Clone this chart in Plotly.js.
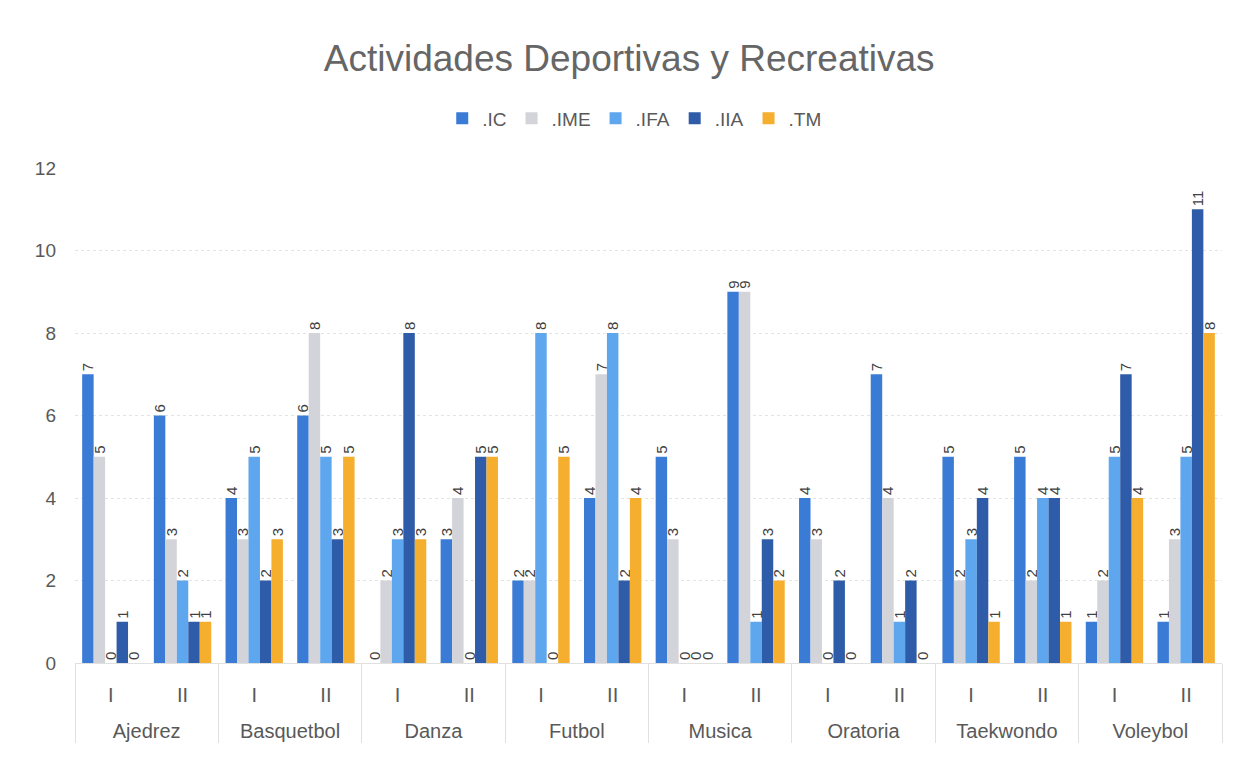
<!DOCTYPE html>
<html><head><meta charset="utf-8">
<script src="https://cdn.plot.ly/plotly-3.0.1.min.js"></script>
<style>html,body{margin:0;padding:0;background:#fff}#chart{width:1241px;height:757px}</style>
</head><body><div id="chart"></div>
<script>
const groups = ["Ajedrez","Ajedrez","Basquetbol","Basquetbol","Danza","Danza","Futbol","Futbol","Musica","Musica","Oratoria","Oratoria","Taekwondo","Taekwondo","Voleybol","Voleybol"];
const periods = ["I","II","I","II","I","II","I","II","I","II","I","II","I","II","I","II"];
const seriesNames = [".IC",".IME",".IFA",".IIA",".TM"];
const IC  = [7,6,4,6,0,3,2,4,5,9,4,7,5,5,1,1];
const IME = [5,3,3,8,2,4,2,7,3,9,3,4,2,2,2,3];
const IFA = [0,2,5,5,3,0,8,8,0,1,0,1,3,4,5,5];
const IIA = [1,1,2,3,8,5,0,2,0,3,2,2,4,4,7,11];
const TM  = [0,1,3,5,3,5,5,4,0,2,0,0,1,1,4,8];
const colors = ["#3a7bd5","#d3d3da","#5ea6ee","#2f5ca8","#f5ae2e"];
const values = [IC, IME, IFA, IIA, TM];

// leading line break pushes the group row further below the I/II row
const groupLabels = groups.map(g => "<br>" + g);

const traces = values.map((v,i)=>({
  type:"bar",
  name: seriesNames[i],
  x:[groupLabels, periods],
  y:v,
  marker:{color:colors[i]},
  text:v.map(String),
  textposition:"outside",
  textangle:-90,
  constraintext:"none",
  cliponaxis:false,
  textfont:{family:"Liberation Sans, Arial, sans-serif", size:15, color:"#404040"},
  hoverinfo:"none"
}));

const layout = {
  width:1241, height:757,
  margin:{l:75, r:19, t:168, b:94},
  paper_bgcolor:"#ffffff", plot_bgcolor:"#ffffff",
  font:{family:"Liberation Sans, Arial, sans-serif", color:"#595959"},
  title:{text:"Actividades Deportivas y Recreativas", x:0.507, xanchor:"center", y:0.923, yanchor:"middle", font:{size:37, color:"#666666"}},
  barmode:"group", bargap:0.2, bargroupgap:0,
  showlegend:true,
  legend:{orientation:"h", x:0.488, xanchor:"center", y:1.1, yanchor:"middle", font:{size:19, color:"#595959"}, itemwidth:30, traceorder:"normal"},
  xaxis:{type:"multicategory", tickfont:{size:20, color:"#595959"}, showdividers:true, dividercolor:"#e0e0e0", dividerwidth:1, showline:true, linecolor:"#e0e0e0", ticks:"", showgrid:false, ticklabelstandoff:14},
  yaxis:{range:[0,12], dtick:2, tickfont:{size:19, color:"#595959"}, gridcolor:"#e4e4e4", griddash:"dot", zeroline:false, showline:false, ticklen:0, ticks:"", ticklabelstandoff:18}
};
Plotly.newPlot("chart", traces, layout, {displayModeBar:false, staticPlot:true});
</script></body></html>
